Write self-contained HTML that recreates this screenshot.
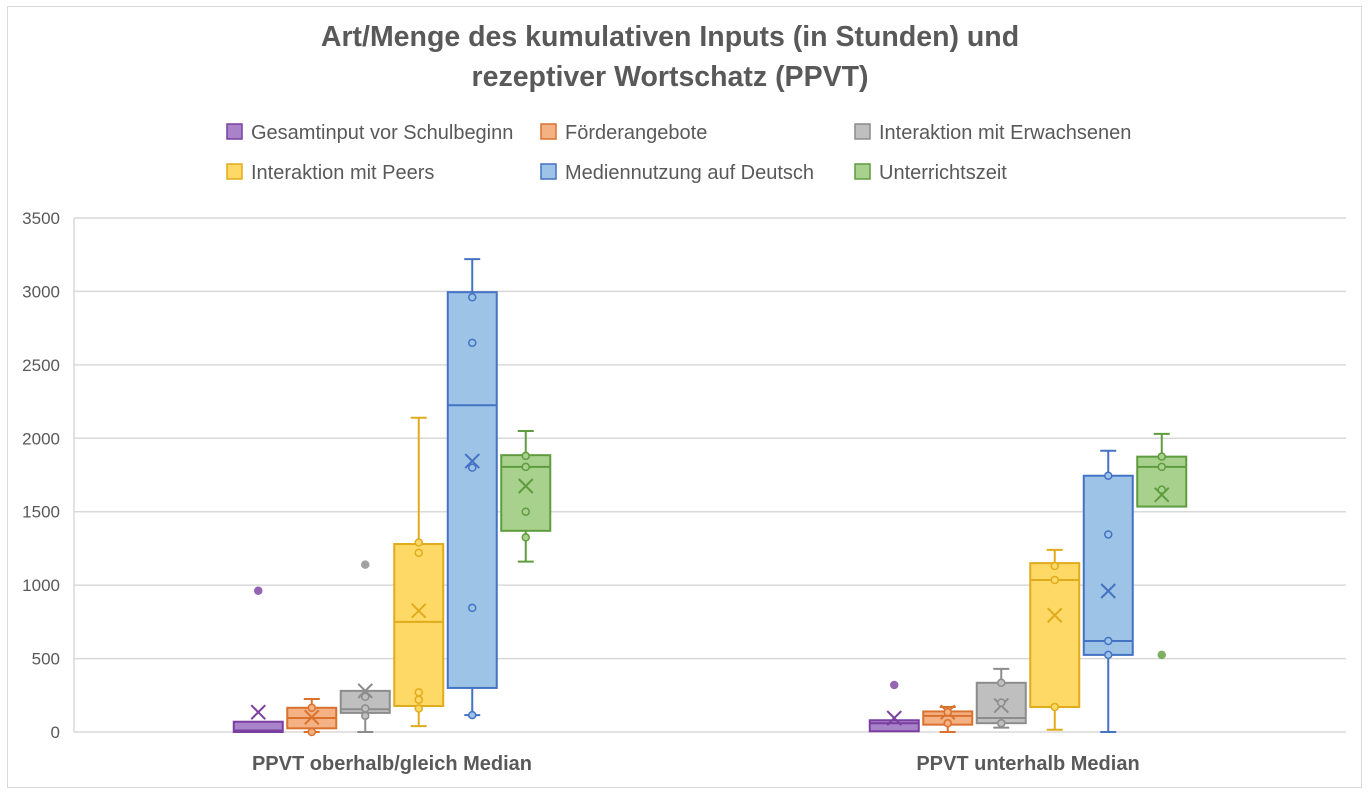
<!DOCTYPE html>
<html><head><meta charset="utf-8"><style>
body{margin:0;background:#fff;font-family:"Liberation Sans",sans-serif}
svg text{font-family:"Liberation Sans",sans-serif}
</style></head><body>
<svg id="chart" width="1370" height="796" xmlns="http://www.w3.org/2000/svg">
<rect x="7.5" y="6.5" width="1354" height="781" fill="#fff" stroke="#d9d9d9"/>
<text x="670" y="46" text-anchor="middle" font-size="28.5" font-weight="bold" fill="#595959">Art/Menge des kumulativen Inputs (in Stunden) und</text>
<text x="670" y="86" text-anchor="middle" font-size="28.5" font-weight="bold" fill="#595959">rezeptiver Wortschatz (PPVT)</text>
<g id="legend"></g>
<g id="grid"></g>
<g id="plot"></g>
</svg>
<script>
const categories=["PPVT oberhalb/gleich Median","PPVT unterhalb Median"];
const seriesNames=["Gesamtinput vor Schulbeginn","Förderangebote","Interaktion mit Erwachsenen","Interaktion mit Peers","Mediennutzung auf Deutsch","Unterrichtszeit"];
const yTicks=[0,500,1000,1500,2000,2500,3000,3500];
// [min, q1, median, q3, max, mean] per series per category
const gesamtinput=[[0,0,10,70,70,135],[5,5,60,80,80,95]];
const foerder=[[0,25,95,165,225,100],[0,50,110,140,170,135]];
const erwachsene=[[0,130,155,280,280,280],[30,60,95,335,430,180]];
const peers=[[40,177,750,1280,2140,825],[15,170,1035,1150,1240,795]];
const medien=[[115,300,2225,2995,3220,1845],[0,525,620,1745,1915,960]];
const unterricht=[[1160,1370,1805,1885,2050,1675],[1535,1535,1805,1875,2030,1615]];
const gesamtPts=[[],[]],gesamtOut=[[962],[320]];
const foerderPts=[[165,0],[135,60]],foerderOut=[[],[]];
const erwPts=[[240,160,110],[335,200,60]],erwOut=[[1140],[]];
const peersPts=[[1290,1220,270,220,160],[1130,1035,170]],peersOut=[[],[]];
const medienPts=[[2960,2650,1800,845,115],[1745,1345,620,525]],medienOut=[[],[]];
const untPts=[[1880,1805,1500,1325],[1875,1805,1650]],untOut=[[],[525]];
const boxes=[gesamtinput,foerder,erwachsene,peers,medien,unterricht];
const pts=[gesamtPts,foerderPts,erwPts,peersPts,medienPts,untPts];
const outs=[gesamtOut,foerderOut,erwOut,peersOut,medienOut,untOut];
const strokes=["#7a3fa0","#d9722f","#8c8c8c","#e0ab1c","#4472c4","#5e9c3d"];
const fills=["#a983c9","#f4b183","#bfbfbf","#ffd966","#9dc3e6","#a9d18e"];
const NS="http://www.w3.org/2000/svg";
const x0=74,x1=1346,yTop=218,yBot=732,yMax=3500;
const y=v=>yBot-(v/yMax)*(yBot-yTop);
const gW=(x1-x0)/categories.length;
const bx=(c,s)=>x0+gW*c+gW/2+(s-2.5)*53.5;
function mk(t,a,p){const e=document.createElementNS(NS,t);for(const k in a)e.setAttribute(k,a[k]);p.appendChild(e);return e;}
const grid=document.getElementById('grid'),plot=document.getElementById('plot'),leg=document.getElementById('legend');
let r=mk('line',{x1:x0,x2:x0,y1:yTop,y2:yBot,stroke:'#d9d9d9','stroke-width':1.5},grid);


yTicks.forEach(t=>{
 let l=mk('line',{x1:x0,x2:x1,y1:y(t),y2:y(t),stroke:'#d9d9d9','stroke-width':1.5},grid);
 
 
 let tx=mk('text',{x:60,y:y(t)+6,'text-anchor':'end','font-size':17,fill:'#595959'},grid);
 tx.textContent=t;
 
 
});
categories.forEach((c,i)=>{
 let tx=mk('text',{x:x0+gW*i+gW/2,y:770,'text-anchor':'middle','font-size':20,'font-weight':'bold',fill:'#595959'},grid);
 tx.textContent=c;
 
 
});
const legX=[226,540,854],legY=[132,172];
seriesNames.forEach((n,s)=>{
 const lx=legX[s%3],ly=legY[Math.floor(s/3)];
 let g=mk('g',{},leg);
 
 
 mk('rect',{x:lx+1,y:ly-8,width:15,height:15,fill:fills[s],stroke:strokes[s],'stroke-width':1.5},g);
 let tx=mk('text',{x:lx+25,y:ly+7,'font-size':20,fill:'#595959'},g);
 tx.textContent=n;
});
boxes.forEach((ser,s)=>{
 ser.forEach((d,c)=>{
  const cx=bx(c,s),hw=24.5;
  const [mn,q1,md,q3,mx,mean]=d;
  let g=mk('g',{},plot);
  
  
  const st={stroke:strokes[s],'stroke-width':2,fill:'none'};
  if(mx>q3){mk('line',{...st,x1:cx,x2:cx,y1:y(q3),y2:y(mx)},g);mk('line',{...st,x1:cx-8,x2:cx+8,y1:y(mx),y2:y(mx)},g);}
  if(mn<q1){mk('line',{...st,x1:cx,x2:cx,y1:y(q1),y2:y(mn)},g);mk('line',{...st,x1:cx-8,x2:cx+8,y1:y(mn),y2:y(mn)},g);}
  mk('rect',{x:cx-hw,y:y(q3),width:hw*2,height:Math.max(1,y(q1)-y(q3)),fill:fills[s],stroke:strokes[s],'stroke-width':2},g);
  mk('line',{...st,x1:cx-hw,x2:cx+hw,y1:y(md),y2:y(md)},g);
  mk('path',{...st,d:`M${cx-7} ${y(mean)-7}L${cx+7} ${y(mean)+7}M${cx+7} ${y(mean)-7}L${cx-7} ${y(mean)+7}`},g);
  pts[s][c].forEach(v=>mk('circle',{cx:cx,cy:y(v),r:3.5,fill:fills[s],stroke:strokes[s],'stroke-width':1.5},g));
  outs[s][c].forEach(v=>mk('circle',{cx:cx,cy:y(v),r:3.5,fill:strokes[s],stroke:strokes[s],'stroke-width':1.5,opacity:0.8},g));
 });
});
</script>
</body></html>
